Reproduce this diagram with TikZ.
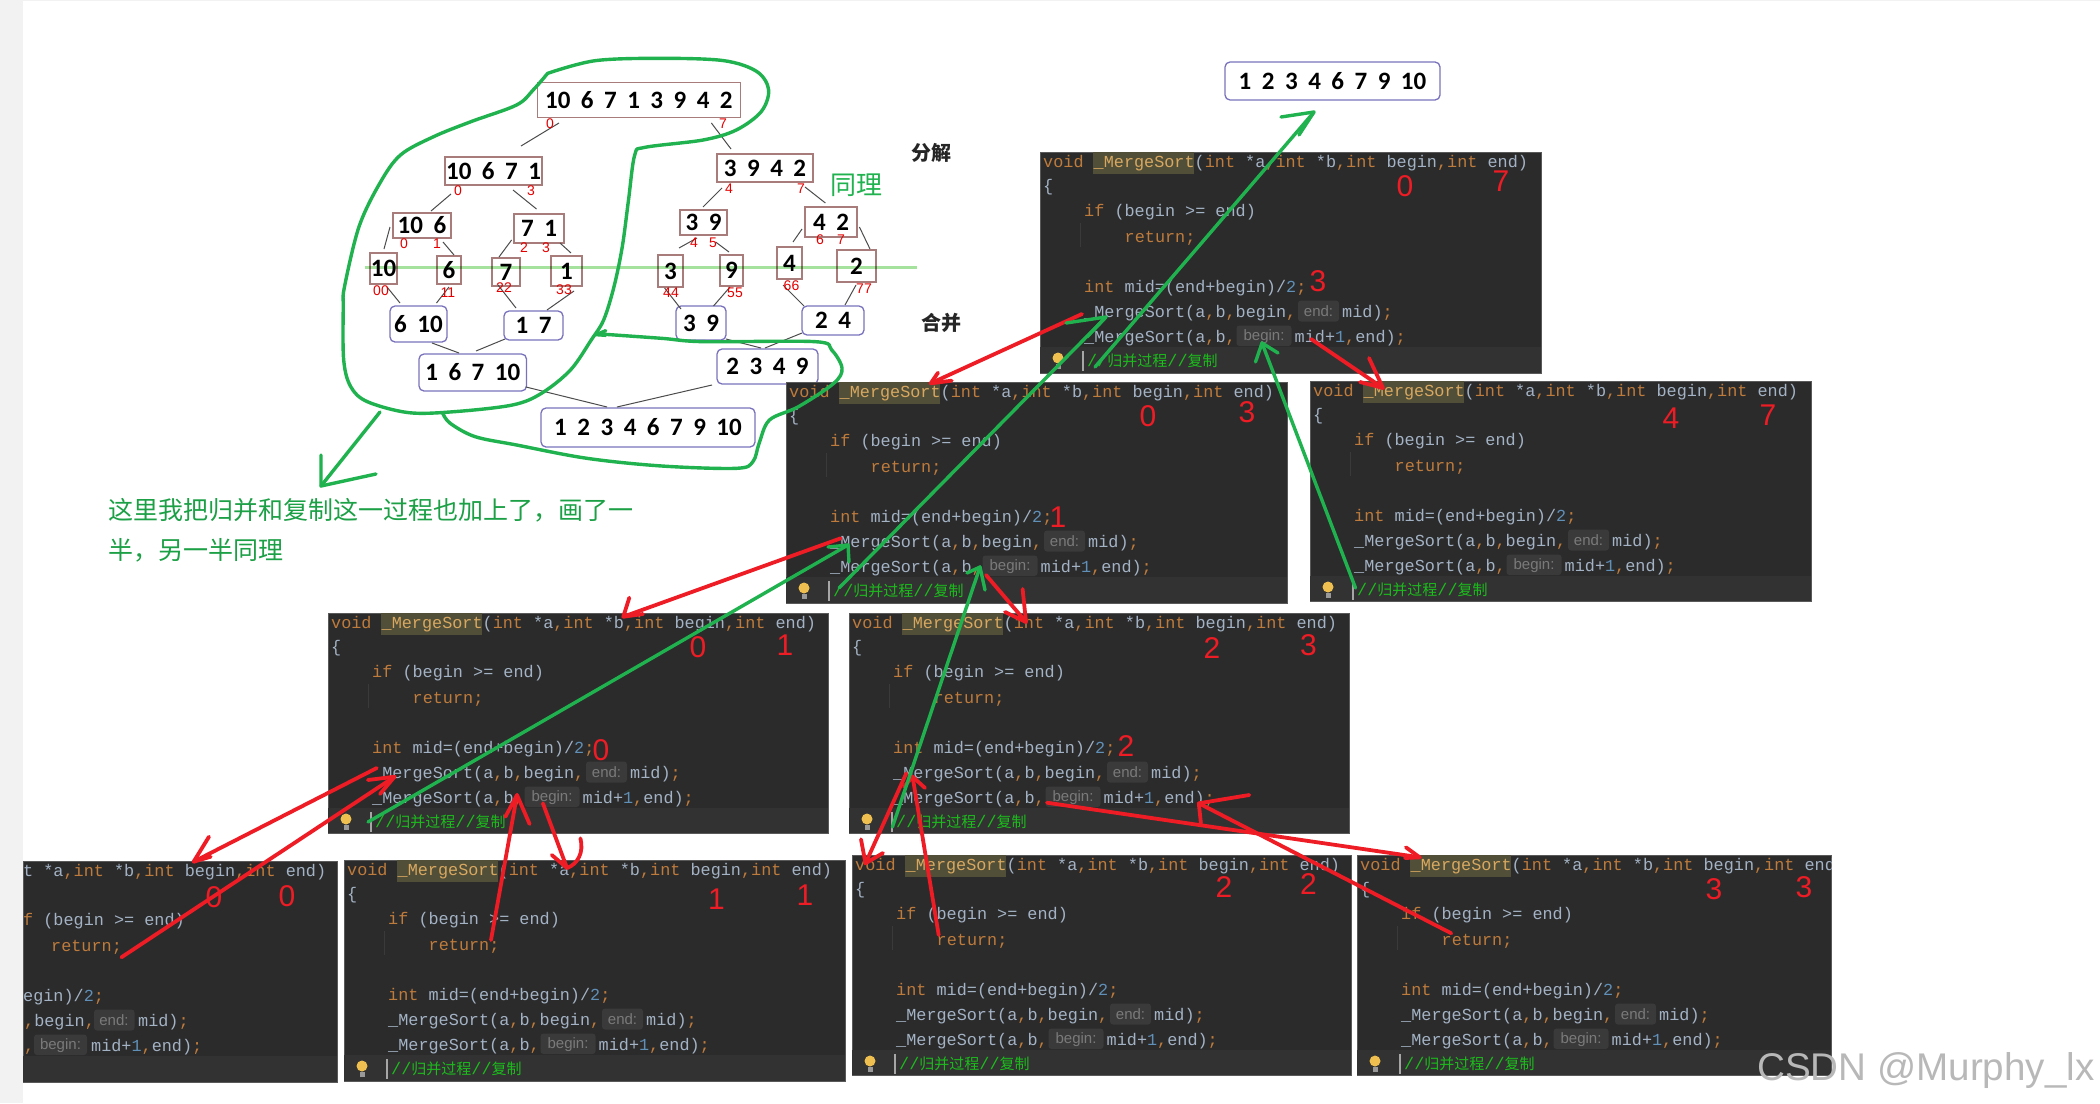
\documentclass[tikz,border=0pt]{standalone}
\usepackage{fontspec}
\usetikzlibrary{calc}
\setmainfont{Liberation Sans}
\setmonofont{Liberation Mono}
\newfontfamily\cjk{Noto Sans CJK SC}
\newfontfamily\treefam{Carlito}
\definecolor{panelbg}{HTML}{2B2B2B}
\definecolor{barbg}{HTML}{323232}
\definecolor{hlbg}{HTML}{514F38}
\definecolor{hlfg}{HTML}{D8A860}
\definecolor{codefg}{HTML}{A3B2C4}
\definecolor{codeorange}{HTML}{BE7B3C}
\definecolor{codeblue}{HTML}{6090B8}
\definecolor{commentgreen}{HTML}{1CBC1C}
\definecolor{hintbg}{HTML}{3A3A3A}
\definecolor{hintfg}{HTML}{7A7A7A}
\definecolor{penred}{HTML}{EE1C25}
\definecolor{pengreen}{HTML}{1FB24E}
\definecolor{boxred}{HTML}{A87C7A}
\definecolor{boxblue}{HTML}{7872BC}
\definecolor{bulb}{HTML}{EFC050}
\definecolor{dividergreen}{HTML}{A4E29E}
\newcommand\Kw[1]{\textcolor{codeorange}{#1}}
\newcommand\Nm[1]{\textcolor{codeblue}{#1}}
\newcommand\treefont{\treefam\fontsize{25}{27}\selectfont\bfseries}
\newcommand\gapped[1]{{\spaceskip=10.5pt\relax #1}}
\tikzset{
  codeline/.style={anchor=base west,inner sep=0pt,text=codefg,font=\ttfamily\fontsize{16.83}{18}\selectfont},
  hinttext/.style={inner sep=0pt,text=hintfg,font=\fontsize{15}{16}\selectfont},
  panelbox/.style={anchor=north west,inner sep=0pt,fill=panelbg,draw=gray!70!black,line width=.7pt},
  redbox/.style={draw=boxred,line width=1.3pt,fill=white,inner sep=0pt,font=\treefont},
  bluebox/.style={draw=boxblue,line width=1.3pt,fill=white,rounded corners=5pt,inner sep=0pt,font=\treefont},
  treeline/.style={draw=black!70,line width=1pt},
  idxlabel/.style={inner sep=0pt,text=red!90!black,font=\fontsize{14}{15}\selectfont},
  bignum/.style={inner sep=0pt,text=penred,font=\fontsize{30}{32}\selectfont},
  handred/.style={draw=penred,line width=3.8pt,line cap=round,line join=round},
  handgreen/.style={draw=pengreen,line width=3.4pt,line cap=round,line join=round},
  blob/.style={draw=pengreen,line width=3.4pt,line cap=round,line join=round},
  greentext/.style={anchor=west,inner sep=0pt,text=pengreen!90!black,font=\cjk\fontsize{25}{27}\selectfont},
  heading/.style={inner sep=0pt,text=black!85,font=\cjk\bfseries\fontsize{20}{22}\selectfont},
}
\newcommand\codepanel[6]{%
  \pgfmathsetmacro\panelcl{#5-#2}\pgfmathsetmacro\panelcr{#6-#2}\pgfmathsetmacro\panelht{#4-#3}%
  \pgfmathsetmacro\panelwd{#6-#5}%
  \begin{scope}[xshift=#2pt,yshift=-#3pt]
    \node[panelbox,minimum width=\panelwd pt,minimum height=\panelht pt] (#1) at (\panelcl,0) {};
    \begin{scope}
      \clip (\panelcl,0) rectangle (\panelcr,\panelht);
      \fill[barbg] (\panelcl,195) rectangle (\panelcr,\panelht);
      \fill[hlbg] (53,0) rectangle (153.5,22);
      \draw[hintbg,line width=1pt] (40,71) -- (40,95);
      \node[codeline] (#1l1) at (3,15) {\Kw{void} \textcolor{hlfg}{\_MergeSort}(\Kw{int} *a\Kw{,}\Kw{int} *b\Kw{,}\Kw{int} begin\Kw{,}\Kw{int} end)};
      \node[codeline] (#1l2) at (3,39) {\{};
      \node[codeline] (#1l3) at (44,64) {\Kw{if} (begin >= end)};
      \node[codeline] (#1l4) at (84.5,90) {\Kw{return;}};
      \node[codeline] (#1l5) at (44,140) {\Kw{int} mid=(end+begin)/\Nm{2}\Kw{;}};
      \node[codeline] (#1l6) at (44,165) {\_MergeSort(a\Kw{,}b\Kw{,}begin\Kw{,}};
      \fill[hintbg,rounded corners=3pt] (258,148.5) rectangle (299,169.5);
      \node[hinttext] (#1h1) at (278.5,159.5) {end:};
      \node[codeline] (#1l6b) at (302,165) {mid)\Kw{;}};
      \node[codeline] (#1l7) at (44,190) {\_MergeSort(a\Kw{,}b\Kw{,}};
      \fill[hintbg,rounded corners=3pt] (196.5,173.5) rectangle (251.5,194);
      \node[hinttext] (#1h2) at (224,184.5) {begin:};
      \node[codeline] (#1l7b) at (254.5,190) {mid+\Nm{1}\Kw{,}end)\Kw{;}};
      \fill[bulb] (18,206) circle (5.5);
      \fill[gray!80] (15.5,212) rectangle (20.5,217);
      \draw[gray!70,line width=1.5pt] (43,199) -- (43,219);
      \node[codeline,text=commentgreen] (#1c) at (47,214) {//{\cjk\fontsize{15}{16}\selectfont 归并过程}//{\cjk\fontsize{15}{16}\selectfont 复制}};
    \end{scope}
  \end{scope}}
\newcommand\treeedge[4]{\draw[treeline] ($(#1)+(#2)$) -- ($(#3)+(#4)$);}
\newcommand\tnode[7]{\node[#1,minimum width=#5pt,minimum height=#6pt] (#2) at (#3,#4) {\gapped{#7}};}
\newcommand\idx[4]{\node[idxlabel] (#1) at (#2,#3) {#4};}
\newcommand\bignumber[4]{\node[bignum] (#1) at (#2,#3) {#4};}
% name, style, start, tip, barb1, barb2
\newcommand\handarrow[6]{%
  \coordinate (#1s) at (#3); \coordinate (#1t) at (#4);
  \coordinate (#1b) at (#5); \coordinate (#1c) at (#6);
  \draw[#2] (#1s) -- (#1t);
  \draw[#2] (#1b) -- (#1t) -- (#1c);}
\begin{document}
\begin{tikzpicture}[x=1pt,y=-1pt]
\useasboundingbox (0,0) rectangle (2100,1103);
\fill[white] (0,0) rectangle (2100,1103);
\fill[black!5] (0,0) rectangle (23,1103);
\fill[black!5] (0,0) rectangle (2100,1);

% tree, splitting
\tnode{redbox}{root}{638.85}{100}{203}{35}{10 6 7 1 3 9 4 2}
\tnode{redbox}{n1}{493.5}{171}{97}{28}{10 6 7 1}
\tnode{redbox}{n2}{765}{168}{96}{28}{3 9 4 2}
\tnode{redbox}{b1}{422}{225.5}{58}{25}{10 6}
\tnode{redbox}{b2}{539}{228.5}{50}{29}{7 1}
\tnode{redbox}{b3}{703.5}{222.5}{47}{25}{3 9}
\tnode{redbox}{b4}{831}{222}{52}{30}{4 2}
\tnode{redbox}{c1}{383.5}{268.5}{27}{31}{10}
\tnode{redbox}{c2}{449}{270}{24}{28}{6}
\tnode{redbox}{c3}{506}{272}{28}{28}{7}
\tnode{redbox}{c4}{566.5}{271}{31}{30}{1}
\tnode{redbox}{c5}{670.5}{271}{25}{32}{3}
\tnode{redbox}{c6}{731.5}{270.5}{23}{31}{9}
\tnode{redbox}{c7}{789.5}{263}{25}{32}{4}
\tnode{redbox}{c8}{856.5}{266}{39}{32}{2}
% tree, merging
\tnode{bluebox}{m1}{418.5}{324}{57}{36}{6 10}
\tnode{bluebox}{m2}{533.5}{325.5}{59}{29}{1 7}
\tnode{bluebox}{m3}{701}{323}{50}{34}{3 9}
\tnode{bluebox}{m4}{833}{320.5}{62}{29}{2 4}
\tnode{bluebox}{k1}{472.75}{372.5}{107.5}{37}{1 6 7 10}
\tnode{bluebox}{k2}{767.5}{366.5}{101}{35}{2 3 4 9}
\tnode{bluebox}{final}{648}{427.5}{214}{39}{1 2 3 4 6 7 9 10}
\tnode{bluebox}{result}{1332.5}{81}{215}{38}{1 2 3 4 6 7 9 10}

\treeedge{root}{-79.85,23}{n1}{27.5,-25}
\treeedge{root}{72.55,23}{n2}{-34,-19}
\treeedge{n1}{-42.5,23}{b1}{9,-14.5}
\treeedge{n1}{19.5,19}{b2}{-2.5,-19.5}
\treeedge{n2}{-43,20}{b3}{-.5,-15.5}
\treeedge{n2}{40,19}{b4}{-5.6,-19}
\treeedge{b1}{-32,1.5}{c1}{.5,-19.5}
\treeedge{b1}{21,16.5}{c2}{5,-15}
\treeedge{b2}{-27.4,11.5}{c3}{-7,-15}
\treeedge{b2}{21,14.5}{c4}{4.5,-18}
\treeedge{b3}{-6.5,15.5}{c5}{8.5,-23}
\treeedge{b3}{12.1,19.5}{c6}{-2.5,-18.5}
\treeedge{b4}{-29,7}{c7}{3.5,-21}
\treeedge{b4}{28.4,5}{c8}{13.5,-17}
\treeedge{c1}{3.5,18.5}{m1}{-18.5,-21}
\treeedge{c2}{0,17}{m1}{18,-21}
\treeedge{c3}{-8,13}{m2}{-17.5,-17.5}
\treeedge{c4}{7.5,20}{m2}{13.5,-15.5}
\treeedge{c5}{-5.9,17}{m3}{-20,-14}
\treeedge{c6}{-1.5,16.5}{m3}{12.5,-17}
\treeedge{c7}{-6.5,22}{m4}{-29,-14.5}
\treeedge{c8}{-.5,19}{m4}{12,-15.5}
\treeedge{m1}{13.5,19}{k1}{-13.75,-19.5}
\treeedge{m2}{-28.5,13.5}{k1}{3.25,-21.5}
\treeedge{m3}{25,16}{k2}{-6.5,-18.5}
\treeedge{m4}{-31,12.5}{k2}{-2.5,-18.5}
\treeedge{k1}{53.25,14.5}{final}{-41,-20.5}
\treeedge{k2}{-55.5,18.5}{final}{-31,-20.5}

% index labels
\idx{i1}{550}{124}{0}\idx{i2}{723}{124}{7}
\idx{i3}{458}{191}{0}\idx{i4}{531}{191}{3}
\idx{i5}{729}{189}{4}\idx{i6}{801}{189}{7}
\idx{i7}{404}{244}{0}\idx{i8}{437}{244}{1}
\idx{i9}{524}{248}{2}\idx{i10}{546}{248}{3}
\idx{i11}{694}{243}{4}\idx{i12}{713}{243}{5}
\idx{i13}{820}{240}{6}\idx{i14}{841}{240}{7}
\idx{i15}{381}{291}{00}\idx{i16}{448}{293}{11}
\idx{i17}{504}{288}{22}\idx{i18}{564}{290}{33}
\idx{i19}{671}{293}{44}\idx{i20}{735}{293}{55}
\idx{i21}{791.5}{286}{66}\idx{i22}{864}{289}{77}

% divider
\coordinate (divl) at (365,267); \coordinate (divr) at (917,267);
\draw[dividergreen,line width=3pt,blend mode=multiply] (divl) -- (divr);

\node[heading] (split) at (931,153) {分解};
\node[heading] (merge) at (941,323) {合并};
\node[inner sep=0pt,text=pengreen,font=\cjk\fontsize{26}{28}\selectfont] (same) at (856.5,185) {同理};
\node[greentext] (note1) at (108,510) {这里我把归并和复制这一过程也加上了，画了一};
\node[greentext] (note2) at (108,550) {半，另一半同理};

% code panels
\codepanel{pa}{1040}{152}{372.5}{1040}{1541}
\codepanel{pb}{786}{382}{603}{786}{1287}
\codepanel{pc}{1310}{381}{601}{1310}{1811}
\codepanel{pd}{328}{613}{833}{328}{828}
\codepanel{pe}{849}{613}{833}{849}{1349}
\codepanel{pg}{344}{860}{1081}{344}{845}
\codepanel{ph}{852}{855}{1075}{852}{1351}
\codepanel{pi}{1357}{855}{1075}{1357}{1831}

% the bottom-left panel is cropped on its left, and shows only these ends of its lines
\begin{scope}[yshift=-861pt]
  \node[panelbox,minimum width=314pt,minimum height=221pt] (pf) at (23,0) {};
  \fill[barbg] (23,195) rectangle (337,221);
  \node[codeline] (pfl1) at (23,15) {t *a\Kw{,}\Kw{int} *b\Kw{,}\Kw{int} begin\Kw{,}\Kw{int} end)};
  \node[codeline] (pfl3) at (23,64) {\Kw{f} (begin >= end)};
  \node[codeline] (pfl4) at (51,90) {\Kw{return;}};
  \node[codeline] (pfl5) at (23,140) {egin)/\Nm{2}\Kw{;}};
  \node[codeline] (pfl6) at (24,165) {\Kw{,}begin\Kw{,}};
  \fill[hintbg,rounded corners=3pt] (94,148.5) rectangle (134.5,169.5);
  \node[hinttext] (pfh1) at (114,159.5) {end:};
  \node[codeline] (pfl6b) at (138,165) {mid)\Kw{;}};
  \node[codeline] (pfl7) at (24,190) {\Kw{,}};
  \fill[hintbg,rounded corners=3pt] (34,173.5) rectangle (87,194);
  \node[hinttext] (pfh2) at (60.5,184.5) {begin:};
  \node[codeline] (pfl7b) at (91,190) {mid+\Nm{1}\Kw{,}end)\Kw{;}};
\end{scope}

% hand-written numbers
\bignumber{na1}{1405}{186}{0}\bignumber{na2}{1501}{181}{7}\bignumber{na3}{1318}{281}{3}
\bignumber{nb1}{1148}{416.5}{0}\bignumber{nb2}{1247}{412.5}{3}\bignumber{nb3}{1058}{517}{1}
\bignumber{nc1}{1671}{418}{4}\bignumber{nc2}{1768}{415}{7}
\bignumber{nd1}{698}{647}{0}\bignumber{nd2}{785}{645.5}{1}\bignumber{nd3}{601}{750}{0}
\bignumber{ne1}{1212}{648}{2}\bignumber{ne2}{1308.5}{645.5}{3}\bignumber{ne3}{1126}{746}{2}
\bignumber{nf1}{214}{897}{0}\bignumber{nf2}{287}{896}{0}
\bignumber{ng1}{716.5}{899}{1}\bignumber{ng2}{805}{895}{1}
\bignumber{nh1}{1224}{887}{2}\bignumber{nh2}{1308.5}{884}{2}
\bignumber{ni1}{1714}{889}{3}\bignumber{ni2}{1804}{887}{3}

% green loops
\begin{scope}[x=0.41459pt,y=-0.33333pt,xshift=330pt,yshift=-40pt]
\draw[blob] plot[smooth,tension=.55] coordinates {(525,100) (640,62) (800,55) (950,62) (1030,95) (1058,150) (1040,215) (980,270) (900,300) (760,322) (735,345) (720,480) (705,620) (685,740) (660,840) (630,900) (580,990) (510,1060) (440,1095) (300,1115) (190,1118) (90,1085) (50,1040) (33,960) (32,800) (35,740) (70,560) (120,430) (170,345) (250,290) (340,245) (450,195) (490,150) (525,100)};
\draw[blob] plot[smooth,tension=.55] coordinates {(652,882) (800,895) (900,905) (1170,905) (1210,930) (1235,985) (1215,1030) (1130,1100) (1060,1140) (1035,1210) (1020,1265) (980,1285) (800,1278) (620,1255) (450,1215) (350,1190) (290,1150) (272,1120)};
\draw[blob] (665,872) -- (642,884) -- (665,886);
\end{scope}
\handarrow{gn}{handgreen}{380,412}{321,486}{321,455}{376,474}

% red strokes
\handarrow{ra}{handred}{1082,314}{930.7,383.3}{938,372.7}{951.7,380.7}
\handarrow{rb}{handred}{1311,339}{1383,388}{1369,358}{1360,382}
\handarrow{rc}{handred}{840.7,538.3}{623.3,616.7}{629.3,597.7}{643,614}
\handarrow{rd}{handred}{986,575}{1026,622}{1022.6,589}{1005,612}
\handarrow{re}{handred}{376.8,768}{193.6,861.7}{209,836.7}{210.7,856.7}
\handarrow{rf}{handred}{121.4,957.3}{394.6,776.7}{367.9,780}{380,794}
\coordinate (rgs) at (542.9,803.3); \coordinate (rgt) at (567,868);
\coordinate (rgb) at (551.8,855); \coordinate (rgc) at (580.4,838.3);
\draw[handred] (rgs) -- (rgt) -- (rgb);
\draw[handred] (rgt) .. controls (578,864) and (584,852) .. (rgc);
\handarrow{rh}{handred}{491,940}{517,795}{505.4,816.7}{529.6,824}
\handarrow{ri}{handred}{906.3,773.3}{865.5,863.3}{861,839.3}{883,853}
\handarrow{rj}{handred}{938.7,935}{912.6,776.7}{904,786.7}{925,788}
\handarrow{rk}{handred}{1047,802.7}{1419.7,857.3}{1405.9,847.3}{1405,858}
\handarrow{rl}{handred}{1451.3,933.3}{1198.8,803.3}{1249.3,795}{1200.9,823.3}

% green arrows
\handarrow{ga}{handgreen}{1095,367}{1314,112}{1281,117}{1299,135}
\handarrow{gb}{handgreen}{839,588}{1106,317}{1066,323}{1087,337}
\handarrow{gc}{handgreen}{1355.5,588}{1262,343}{1255.5,362}{1278,353}
\handarrow{gd}{handgreen}{368,822}{848,545}{828,547}{849,562}
\handarrow{ge}{handgreen}{892.4,827}{980,567}{967,573}{985,590}

% watermark
\node[anchor=base west,inner sep=0pt,text=black!28,font=\fontsize{38.6}{41}\selectfont] (wm) at (1757,1080) {CSDN @Murphy\_lx};
\end{tikzpicture}
\end{document}
